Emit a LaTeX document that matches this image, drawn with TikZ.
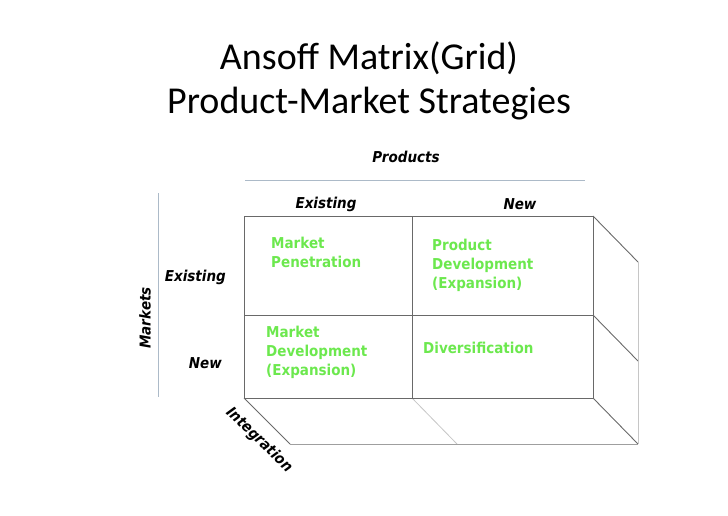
\documentclass[tikz,border=0pt]{standalone}
\usepackage{fontspec}
\setmainfont{Carlito}
\newfontfamily\lblfont{DejaVu Sans}[FakeStretch=0.9]
\definecolor{grn}{RGB}{108,232,78}
\definecolor{rule}{RGB}{172,186,200}
\definecolor{gridc}{RGB}{105,105,105}
\begin{document}
\begin{tikzpicture}[x=1pt,y=-1pt,
  gridline/.style={draw=gridc,line width=0.9pt},
  faint/.style={draw=gray!45,line width=0.8pt},
  backline/.style={draw=gray!75,line width=0.8pt},
  rulestyle/.style={draw=rule,line width=1pt},
  axislbl/.style={font=\lblfont\fontsize{15}{18}\selectfont\bfseries\itshape,inner sep=0pt},
  cell/.style={font=\lblfont\fontsize{15}{19}\selectfont\bfseries,text=grn,align=left,anchor=north west,inner sep=0pt},
  title/.style={font=\fontsize{38}{44}\selectfont,align=center,inner sep=0pt}]
\useasboundingbox (0,0) rectangle (728,515);
% title
\node[title,anchor=base] (t1) at (369,69) {Ansoff Matrix(Grid)};
\node[title,anchor=base] (t2) at (369,113) {Product-Market Strategies};
% corner coordinates
\coordinate (A) at (244,216); \coordinate (B) at (412,216); \coordinate (C) at (593,216);
\coordinate (D) at (244,315); \coordinate (E) at (412,315); \coordinate (F) at (593,315);
\coordinate (G) at (244,398); \coordinate (H) at (412,398); \coordinate (I) at (593,398);
\coordinate (Cb) at (638,262); \coordinate (Fb) at (638,361); \coordinate (Ib) at (638,444);
\coordinate (Gb) at (290,444); \coordinate (Hb) at (457,444);
\coordinate (R1) at (245,180); \coordinate (R2) at (585,180);
\coordinate (V1) at (158,193); \coordinate (V2) at (158,397);
% rules
\draw[rulestyle] (R1) -- (R2);
\draw[rulestyle] (V1) -- (V2);
% depth
\draw[faint] (H) -- (Hb);
\draw[gridline] (C) -- (Cb);
\draw[gridline] (F) -- (Fb);
\draw[gridline] (I) -- (Ib);
\draw[gridline] (G) -- (Gb);
\draw[backline] (Gb) -- (Ib);
\draw[faint] (Ib) -- (Cb);
% front grid
\draw[gridline] (A) rectangle (I);
\draw[gridline] (B) -- (H);
\draw[gridline] (D) -- (F);
% axis labels
\node[axislbl] (prod) at (406,157) {Products};
\node[axislbl] (pex) at (326,204) {Existing};
\node[axislbl] (pnew) at (520,204) {New};
\node[axislbl,anchor=base east] (mex) at (226,281) {Existing};
\node[axislbl,anchor=base east] (mnew) at (222,368) {New};
\node[axislbl,rotate=90] (mk) at (145,318) {Markets};
\node[axislbl,rotate=-44] (integ) at (259,440) {Integration};
% cells
\node[cell] (mp) at (271,237) {Market\\Penetration};
\node[cell] (pd) at (432,239) {Product\\Development\\(Expansion)};
\node[cell] (md) at (266,326) {Market\\Development\\(Expansion)};
\node[cell] (dv) at (423,342) {Diversification};
\end{tikzpicture}
\end{document}
